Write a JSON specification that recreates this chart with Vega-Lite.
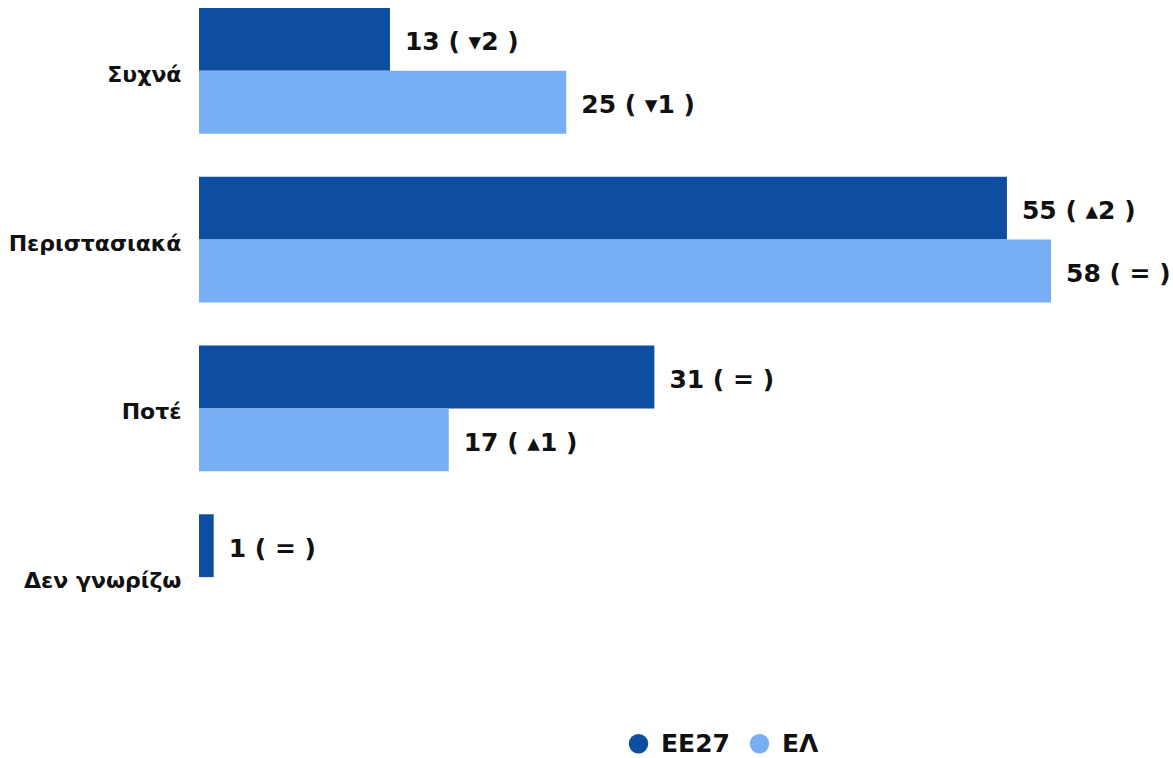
{
  "$schema": "https://vega.github.io/schema/vega-lite/v6.json",
  "autosize": {"type": "none"},
  "width": 852,
  "height": 648,
  "padding": {"left": 199, "top": 0, "right": 122, "bottom": 110},
  "background": "white",
  "config": {"view": {"stroke": null}, "font": "DejaVu Sans"},
  "data": {
    "values": [
      {"category": "Συχνά", "series": "ΕΕ27", "value": 13, "label": "13 ( ▾2 )"},
      {"category": "Συχνά", "series": "ΕΛ", "value": 25, "label": "25 ( ▾1 )"},
      {"category": "Περιστασιακά", "series": "ΕΕ27", "value": 55, "label": "55 ( ▴2 )"},
      {"category": "Περιστασιακά", "series": "ΕΛ", "value": 58, "label": "58 ( = )"},
      {"category": "Ποτέ", "series": "ΕΕ27", "value": 31, "label": "31 ( = )"},
      {"category": "Ποτέ", "series": "ΕΛ", "value": 17, "label": "17 ( ▴1 )"},
      {"category": "Δεν γνωρίζω", "series": "ΕΕ27", "value": 1, "label": "1 ( = )"}
    ]
  },
  "encoding": {
    "y": {
      "field": "category",
      "type": "nominal",
      "sort": ["Συχνά", "Περιστασιακά", "Ποτέ", "Δεν γνωρίζω"],
      "scale": {"paddingInner": 0.255, "paddingOuter": 0.0474},
      "axis": {
        "title": null,
        "domain": false,
        "ticks": false,
        "labelPadding": 18,
        "labelOffset": 4,
        "labelFontSize": 22,
        "labelFontWeight": "bold",
        "labelColor": "#111111",
        "labelFont": "DejaVu Sans"
      }
    },
    "yOffset": {
      "field": "series",
      "type": "nominal",
      "sort": ["ΕΕ27", "ΕΛ"],
      "scale": {"paddingInner": 0, "paddingOuter": 0}
    },
    "x": {
      "field": "value",
      "type": "quantitative",
      "scale": {"domain": [0, 58], "nice": false},
      "axis": null
    }
  },
  "layer": [
    {
      "mark": {"type": "bar"},
      "encoding": {
        "color": {
          "field": "series",
          "type": "nominal",
          "sort": ["ΕΕ27", "ΕΛ"],
          "scale": {"domain": ["ΕΕ27", "ΕΛ"], "range": ["#0D4EA1", "#78AEF4"]},
          "legend": {
            "title": null,
            "orient": "none",
            "direction": "horizontal",
            "legendX": 427,
            "legendY": 731,
            "symbolType": "circle",
            "symbolSize": 380,
            "symbolStrokeWidth": 0,
            "labelFontSize": 25,
            "labelFontWeight": "bold",
            "labelColor": "#111111",
            "labelFont": "DejaVu Sans",
            "labelOffset": 10,
            "columnPadding": 17
          }
        }
      }
    },
    {
      "mark": {
        "type": "text",
        "align": "left",
        "baseline": "middle",
        "dx": 15,
        "dy": 3,
        "fontSize": 25,
        "fontWeight": "bold",
        "color": "#111111"
      },
      "encoding": {"text": {"field": "label"}}
    }
  ]
}
